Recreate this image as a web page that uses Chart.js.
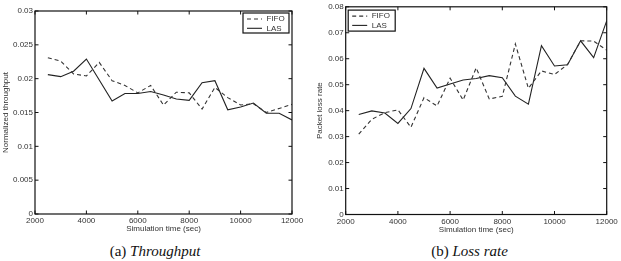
<!DOCTYPE html>
<html>
<head>
    <title>Throughput and loss rate, FIFO vs LAS</title>
    <style type="text/css">
        body {
            margin: 0;
            background: #fff;
        }

        #page {
            position: relative;
            width: 621px;
            height: 261px;
        }

        canvas {
            position: absolute;
            top: 0;
        }

        .caption {
            position: absolute;
            top: 244px;
            font-family: "Liberation Serif", "DejaVu Serif", serif;
            font-size: 15px;
            line-height: 15px;
            text-align: center;
            color: #111;
        }
    </style>
    <script type="text/javascript" src="https://cdn.jsdelivr.net/npm/chart.js@4/dist/chart.umd.min.js"></script>
</head>
<body>

<div id="page">
    <canvas id="throughputCanvas" width="310" height="236" style="left:0"></canvas>
    <canvas id="lossCanvas" width="311" height="236" style="left:310px"></canvas>
    <div class="caption" style="left:0;width:310px">(a) <i>Throughput</i></div>
    <div class="caption" style="left:314px;width:311px">(b) <i>Loss rate</i></div>
</div>

<script>
    // simulation time (sec) of each sample
    var simTime = [2500, 3000, 3500, 4000, 4500, 5000, 5500, 6000, 6500, 7000,
        7500, 8000, 8500, 9000, 9500, 10000, 10500, 11000, 11500, 12000];

    var throughputFifo = [0.0231, 0.0226, 0.0207, 0.0204, 0.0224, 0.0197, 0.0190, 0.0179, 0.0190, 0.0161,
        0.0180, 0.0179, 0.0155, 0.0187, 0.0172, 0.0161, 0.0163, 0.0150, 0.0156, 0.0162];
    var throughputLas = [0.0206, 0.0203, 0.0211, 0.0229, 0.0198, 0.0167, 0.0178, 0.0178, 0.0181, 0.0176,
        0.0170, 0.0168, 0.0194, 0.0197, 0.0154, 0.0158, 0.0164, 0.0149, 0.0149, 0.0139];

    var lossFifo = [0.0310, 0.0367, 0.0392, 0.0403, 0.0336, 0.0450, 0.0418, 0.0525, 0.0441, 0.0565,
        0.0445, 0.0455, 0.0657, 0.0486, 0.0553, 0.0539, 0.0578, 0.0669, 0.0668, 0.0633];
    var lossLas = [0.0385, 0.0399, 0.0391, 0.0351, 0.0408, 0.0563, 0.0487, 0.0503, 0.0518, 0.0524,
        0.0535, 0.0527, 0.0456, 0.0425, 0.0650, 0.0572, 0.0577, 0.0669, 0.0604, 0.0746];

    var timeTicks = [2000, 4000, 6000, 8000, 10000, 12000];
    var throughputTicks = [0, 0.005, 0.01, 0.015, 0.02, 0.025, 0.03];
    var lossTicks = [0, 0.01, 0.02, 0.03, 0.04, 0.05, 0.06, 0.07, 0.08];

    var seriesNames = ['FIFO', 'LAS'];

    var FONT = {family: "'Liberation Sans', Arial, sans-serif", size: 8};
    var TEXT = '#333';

    // matlab style frame, inward ticks and boxed legend
    var frameAndLegend = {
        id: 'frameAndLegend',
        afterDraw: function (chart) {
            var ctx = chart.ctx;
            var a = chart.chartArea;
            var tl = 3.5;
            ctx.save();
            ctx.strokeStyle = '#111';
            ctx.lineWidth = 1.2;
            ctx.setLineDash([]);
            ctx.strokeRect(a.left, a.top, a.right - a.left, a.bottom - a.top);
            ctx.lineWidth = 1;
            ctx.beginPath();
            chart.scales.x.ticks.forEach(function (t) {
                var px = chart.scales.x.getPixelForValue(t.value);
                ctx.moveTo(px, a.bottom); ctx.lineTo(px, a.bottom - tl);
                ctx.moveTo(px, a.top); ctx.lineTo(px, a.top + tl);
            });
            chart.scales.y.ticks.forEach(function (t) {
                var py = chart.scales.y.getPixelForValue(t.value);
                ctx.moveTo(a.left, py); ctx.lineTo(a.left + tl, py);
                ctx.moveTo(a.right, py); ctx.lineTo(a.right - tl, py);
            });
            ctx.stroke();

            var lg = chart.options.plugins.frameAndLegend;
            var bx = lg.right ? a.right - lg.dx - lg.w : a.left + lg.dx;
            var by = a.top + lg.dy;
            ctx.fillStyle = '#fff';
            ctx.fillRect(bx, by, lg.w, lg.h);
            ctx.strokeStyle = '#111';
            ctx.lineWidth = 1.2;
            ctx.strokeRect(bx, by, lg.w, lg.h);
            ctx.font = FONT.size + 'px ' + FONT.family;
            ctx.textBaseline = 'middle';
            ctx.textAlign = 'left';
            chart.data.datasets.forEach(function (ds, i) {
                var ry = by + 6 + i * 9.3;
                ctx.strokeStyle = ds.borderColor;
                ctx.lineWidth = ds.borderWidth;
                ctx.setLineDash(ds.borderDash || []);
                ctx.beginPath();
                ctx.moveTo(bx + 4, ry);
                ctx.lineTo(bx + 19, ry);
                ctx.stroke();
                ctx.fillStyle = TEXT;
                ctx.fillText(ds.label, bx + 23.5, ry);
            });
            ctx.restore();
        }
    };

    function points(ys) {
        return simTime.map(function (t, i) {
            return {x: t, y: ys[i]};
        });
    }

    function makeChart(canvasId, fifo, las, yTicks, yTitle, pad, yWidth, yTitlePad, legend) {
        return new Chart(document.getElementById(canvasId), {
            type: 'line',
            data: {
                datasets: [
                    {
                        label: seriesNames[0],
                        data: points(fifo),
                        borderColor: '#333',
                        borderWidth: 1.1,
                        borderDash: [4, 3],
                        pointRadius: 0,
                        tension: 0,
                        fill: false
                    },
                    {
                        label: seriesNames[1],
                        data: points(las),
                        borderColor: '#222',
                        borderWidth: 1.1,
                        pointRadius: 0,
                        tension: 0,
                        fill: false
                    }
                ]
            },
            options: {
                responsive: false,
                animation: false,
                devicePixelRatio: 1,
                layout: {padding: pad},
                plugins: {
                    legend: {display: false},
                    tooltip: {enabled: false},
                    frameAndLegend: legend
                },
                scales: {
                    x: {
                        type: 'linear',
                        min: timeTicks[0],
                        max: timeTicks[timeTicks.length - 1],
                        grid: {display: false, drawTicks: false},
                        border: {display: false},
                        afterBuildTicks: function (scale) {
                            scale.ticks = timeTicks.map(function (v) { return {value: v}; });
                        },
                        afterFit: function (scale) { scale.height = 21; },
                        ticks: {
                            padding: 2,
                            maxRotation: 0,
                            autoSkip: false,
                            color: TEXT,
                            font: FONT,
                            callback: function (v) { return String(v); }
                        },
                        title: {
                            display: true,
                            text: 'Simulation time (sec)',
                            color: TEXT,
                            font: FONT,
                            padding: {top: 0, bottom: 1}
                        }
                    },
                    y: {
                        min: yTicks[0],
                        max: yTicks[yTicks.length - 1],
                        grid: {display: false, drawTicks: false},
                        border: {display: false},
                        afterBuildTicks: function (scale) {
                            scale.ticks = yTicks.map(function (v) { return {value: v}; });
                        },
                        afterFit: function (scale) { scale.width = yWidth; },
                        ticks: {
                            padding: 2,
                            autoSkip: false,
                            color: TEXT,
                            font: FONT,
                            callback: function (v) { return String(Number(v.toFixed(4))); }
                        },
                        title: {
                            display: true,
                            text: yTitle,
                            color: TEXT,
                            font: FONT,
                            padding: {top: yTitlePad, bottom: 0}
                        }
                    }
                }
            },
            plugins: [frameAndLegend]
        });
    }

    makeChart('throughputCanvas', throughputFifo, throughputLas, throughputTicks,
        'Normalized throughput', {left: 0, right: 18, top: 11, bottom: 1}, 35, 1,
        {right: true, dx: 3, dy: 2, w: 46, h: 20});

    makeChart('lossCanvas', lossFifo, lossLas, lossTicks,
        'Packet loss rate', {left: 0, right: 14.3, top: 6.7, bottom: 0.5}, 35.7, 5,
        {right: false, dx: 2.5, dy: 3.3, w: 47, h: 21});
</script>

</body>
</html>
